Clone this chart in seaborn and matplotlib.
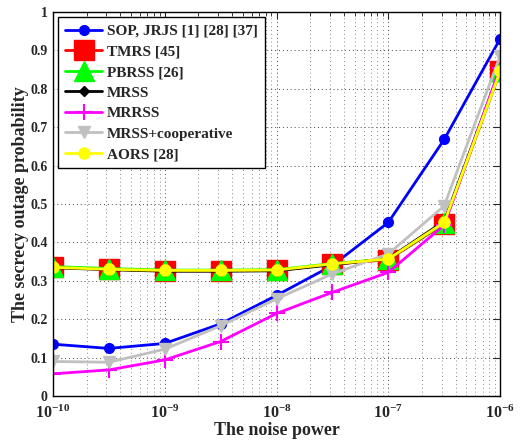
import numpy as np
import pandas as pd
import matplotlib
matplotlib.use("Agg")
import matplotlib.pyplot as plt
import seaborn as sns
from matplotlib.ticker import FixedLocator, FuncFormatter, NullFormatter

sns.set_style("white")
plt.rcParams["font.family"] = ["Liberation Serif", "DejaVu Serif"]
plt.rcParams["font.weight"] = "bold"
plt.rcParams["mathtext.fontset"] = "custom"
plt.rcParams["mathtext.rm"] = "Liberation Serif:bold"
plt.rcParams["mathtext.it"] = "Liberation Serif:bold:italic"
plt.rcParams["mathtext.bf"] = "Liberation Serif:bold"

# noise power samples (half-decade steps)
noise_power = [1e-10, 3.162e-10, 1e-9, 3.162e-9, 1e-8, 3.162e-8, 1e-7, 3.162e-7, 1e-6]
decade_ticks = [1e-10, 1e-9, 1e-8, 1e-7, 1e-6]
decade_exponents = [-10, -9, -8, -7, -6]

sop_jrjs = [0.135, 0.124, 0.137, 0.188, 0.262, 0.340, 0.452, 0.668, 0.930]
tmrs = [0.335, 0.330, 0.326, 0.326, 0.327, 0.343, 0.355, 0.448, 0.845]
pbrss = [0.337, 0.332, 0.328, 0.328, 0.329, 0.345, 0.357, 0.450, 0.847]
mrss = [0.334, 0.329, 0.325, 0.325, 0.326, 0.342, 0.358, 0.455, 0.850]
mrrss = [0.058, 0.068, 0.094, 0.142, 0.215, 0.270, 0.322, 0.445, 0.855]
mrss_coop = [0.090, 0.088, 0.122, 0.183, 0.253, 0.318, 0.370, 0.495, 0.885]
aors = [0.335, 0.330, 0.327, 0.327, 0.328, 0.344, 0.357, 0.452, 0.845]

series = [
    ("SOP, JRJS [1] [28] [37]", sop_jrjs, "#0000ff", "o", 7),
    ("TMRS [45]", tmrs, "#ff0000", "s", 14),
    ("PBRSS [26]", pbrss, "#00ff00", "^", 14),
    ("MRSS", mrss, "#000000", "D", 5),
    ("MRRSS", mrrss, "#ff00ff", "+", 11),
    ("MRSS+cooperative", mrss_coop, "#c0c0c0", "v", 8),
    ("AORS [28]", aors, "#ffff00", "o", 8),
]

fig, ax = plt.subplots(figsize=(5.22, 4.43), dpi=100)
fig.subplots_adjust(left=0.1015, right=0.958, top=0.973, bottom=0.106)

for name, vals, color, marker, ms in series:
    df = pd.DataFrame({"noise": noise_power, "sop": vals})
    sns.lineplot(data=df, x="noise", y="sop", ax=ax, color=color, marker=marker,
                 markersize=ms, linewidth=2, label=name,
                 markeredgecolor=color, markeredgewidth=1.5 if marker == "+" else 1)

ax.set_xscale("log")
ax.set_xlim(1e-10, 1e-6)
ax.set_ylim(0, 1)
ax.xaxis.set_major_locator(FixedLocator(decade_ticks))
ax.set_xticklabels([rf"$10^{{{e}}}$" for e in decade_exponents])
minor = [m * d for d in decade_ticks[:-1] for m in range(2, 10)]
ax.xaxis.set_minor_locator(FixedLocator(minor))
ax.xaxis.set_minor_formatter(NullFormatter())
ax.yaxis.set_major_locator(FixedLocator(np.round(np.arange(0, 1.01, 0.1), 1)))
ax.yaxis.set_major_formatter(FuncFormatter(
    lambda v, p: "0" if abs(v) < 1e-9 else ("1" if abs(v - 1) < 1e-9 else f"{v:.1f}")))

ax.grid(True, which="major", linestyle=(0, (1, 3)), color="#444444", linewidth=0.7)
ax.grid(True, which="minor", axis="x", linestyle=(0, (1, 3)), color="#888888", linewidth=0.7)
ax.tick_params(which="both", direction="in", top=True, right=True)
ax.tick_params(axis="x", which="major", labelsize=11.5, pad=6)
ax.tick_params(axis="y", which="major", labelsize=10, pad=4)
ax.tick_params(which="major", length=5)
ax.tick_params(which="minor", length=3)
for s in ax.spines.values():
    s.set_color("black")
    s.set_linewidth(1)

ax.set_xlabel("The noise power", fontsize=13, fontweight="bold", labelpad=0)
ax.set_ylabel("The secrecy outage probability", fontsize=13, fontweight="bold")
ax.yaxis.set_label_coords(-0.053, 0.5)

leg = ax.legend(loc="upper left", fontsize=11, frameon=True, fancybox=False,
                edgecolor="black", framealpha=1, borderaxespad=0.35,
                handlelength=2.4, handletextpad=0.35, labelspacing=0.45, borderpad=0.45)
leg.get_frame().set_linewidth(1)
for t in leg.get_texts():
    t.set_fontweight("bold")

fig.savefig("out.png", dpi=100)
